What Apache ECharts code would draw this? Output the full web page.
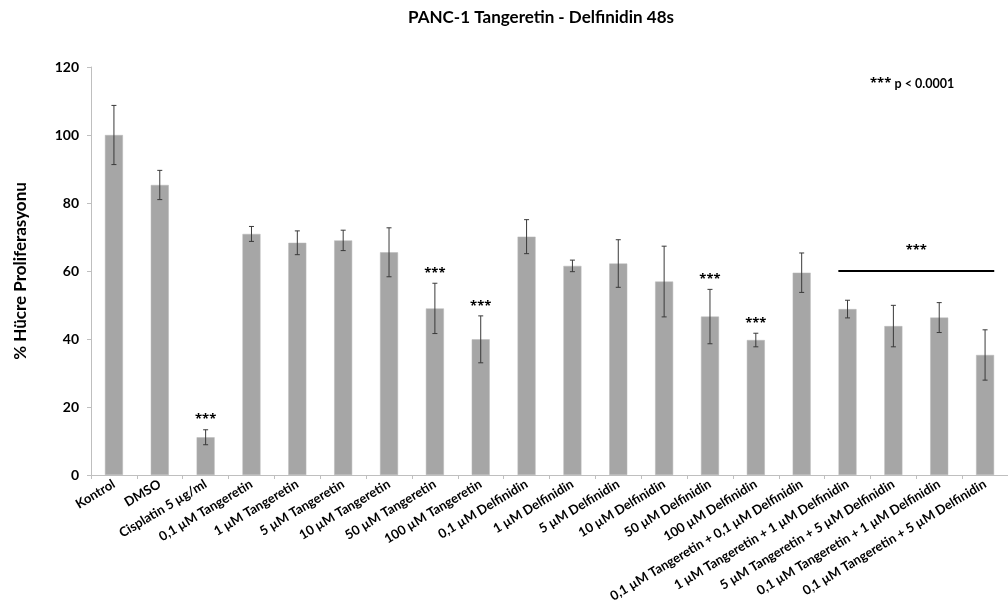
<!DOCTYPE html>
<html>
<head>
<meta charset="utf-8">
<script src="https://cdn.jsdelivr.net/npm/echarts@6/dist/echarts.min.js"></script>
<style>
  html, body { margin: 0; padding: 0; background: #fff; }
  #chart { width: 1008px; height: 610px; }
</style>
</head>
<body>
<div id="chart"></div>
<script>
// Treatment groups along the x axis
const categories = [
  'Kontrol', 'DMSO', 'Cisplatin 5 µg/ml',
  '0,1 µM Tangeretin', '1 µM Tangeretin', '5 µM Tangeretin', '10 µM Tangeretin',
  '50 µM Tangeretin', '100 µM Tangeretin',
  '0,1 µM Delfinidin', '1 µM Delfinidin', '5 µM Delfinidin', '10 µM Delfinidin',
  '50 µM Delfinidin', '100 µM Delfinidin',
  '0,1 µM Tangeretin + 0,1 µM Delfinidin', '1 µM Tangeretin + 1 µM Delfinidin',
  '5 µM Tangeretin + 5 µM Delfinidin', '0,1 µM Tangeretin + 1 µM Delfinidin',
  '0,1 µM Tangeretin + 5 µM Delfinidin'
];
// Mean proliferation (%) and standard deviation per group
const meanValues  = [100, 85.3, 11.1, 70.9, 68.3, 69.0, 65.5, 49.0, 39.9, 70.1, 61.5, 62.2, 56.9, 46.6, 39.7, 59.5, 48.8, 43.8, 46.3, 35.3];
const errorValues = [8.7, 4.3, 2.2, 2.2, 3.5, 3.0, 7.2, 7.4, 6.9, 5.0, 1.7, 7.0, 10.4, 8.0, 2.0, 5.8, 2.6, 6.1, 4.4, 7.4];
// Groups individually marked as significant
const significantIdx = [2, 7, 8, 13, 14];
// Combination groups marked together under one bracket
const bracketFrom = 16;
const bracketTo = 19;
const bracketLevel = 60;
const sigLabel = '***';
const pNote = 'p < 0.0001';
const yTicks = { min: 0, max: 120, interval: 20 };

const FONT = 'Lato, "Open Sans", sans-serif';
const STAR_FONT = 'bold 13px "Open Sans", sans-serif';
const chart = echarts.init(document.getElementById('chart'));

const errorData = meanValues.map((v, i) => [i, v - errorValues[i], v + errorValues[i]]);
const sigData = significantIdx.map(i => [i, meanValues[i] + errorValues[i]]);

chart.setOption({
  animation: false,
  title: {
    text: 'PANC-1 Tangeretin - Delfinidin 48s',
    left: 536, top: 4, textAlign: 'center',
    textStyle: { fontFamily: FONT, fontWeight: 'bold', fontSize: 17, color: '#000' }
  },
  grid: { left: 91, right: 0, top: 67, bottom: 135, containLabel: false },
  xAxis: {
    type: 'category',
    data: categories,
    boundaryGap: true,
    axisLine: { lineStyle: { color: '#bfbfbf', width: 1 } },
    axisTick: { show: true, length: 4, lineStyle: { color: '#bfbfbf' } },
    axisLabel: {
      interval: 0, rotate: 31, margin: 8,
      fontFamily: FONT, fontWeight: 'bold', fontSize: 13, color: '#000'
    }
  },
  yAxis: {
    type: 'value',
    min: yTicks.min, max: yTicks.max, interval: yTicks.interval,
    name: '% Hücre Proliferasyonu',
    nameLocation: 'middle', nameRotate: 90, nameGap: 62,
    nameTextStyle: { fontFamily: FONT, fontWeight: 'bold', fontSize: 17, color: '#000' },
    axisLine: { show: true, lineStyle: { color: '#bfbfbf', width: 1 } },
    axisTick: { show: true, length: 4, lineStyle: { color: '#bfbfbf' } },
    splitLine: { show: false },
    axisLabel: { margin: 12, fontFamily: FONT, fontWeight: 'bold', fontSize: 14, color: '#000' }
  },
  series: [
    {
      type: 'bar',
      data: meanValues,
      barWidth: 18,
      itemStyle: { color: '#a6a6a6', borderColor: '#b8b8b8', borderWidth: 0.5 },
      z: 2
    },
    {
      // error bars with short caps
      type: 'custom',
      data: errorData,
      z: 3,
      renderItem: function (params, api) {
        const x = api.value(0);
        const lo = api.coord([x, api.value(1)]);
        const hi = api.coord([x, api.value(2)]);
        const cap = 2.5;
        const style = { stroke: '#3a3a3a', lineWidth: 1 };
        return {
          type: 'group',
          children: [
            { type: 'line', shape: { x1: lo[0], y1: lo[1], x2: hi[0], y2: hi[1] }, style: style },
            { type: 'line', shape: { x1: hi[0] - cap, y1: hi[1], x2: hi[0] + cap, y2: hi[1] }, style: style },
            { type: 'line', shape: { x1: lo[0] - cap, y1: lo[1], x2: lo[0] + cap, y2: lo[1] }, style: style }
          ]
        };
      }
    },
    {
      // significance stars above single groups
      type: 'custom',
      data: sigData,
      z: 4,
      renderItem: function (params, api) {
        const p = api.coord([api.value(0), api.value(1)]);
        return {
          type: 'text',
          style: {
            x: p[0], y: p[1] - 10, text: sigLabel,
            textAlign: 'center', textVerticalAlign: 'middle',
            font: STAR_FONT, fill: '#000'
          }
        };
      }
    },
    {
      // bracket over the combination groups
      type: 'custom',
      data: [[bracketFrom, bracketTo, bracketLevel]],
      z: 4,
      renderItem: function (params, api) {
        const a = api.coord([api.value(0), api.value(2)]);
        const b = api.coord([api.value(1), api.value(2)]);
        const half = api.size([1, 0])[0] * 0.2;
        const x1 = a[0] - half, x2 = b[0] + half;
        return {
          type: 'group',
          children: [
            { type: 'line', shape: { x1: x1, y1: a[1], x2: x2, y2: a[1] }, style: { stroke: '#000', lineWidth: 2 } },
            { type: 'text', style: {
                x: (x1 + x2) / 2, y: a[1] - 21, text: sigLabel,
                textAlign: 'center', textVerticalAlign: 'middle',
                font: STAR_FONT, fill: '#000' } }
          ]
        };
      }
    }
  ],
  graphic: [
    {
      type: 'text', left: 870, top: 77,
      style: {
        text: '{s|' + sigLabel + '} {t|' + pNote + '}',
        rich: {
          s: { font: STAR_FONT, fill: '#000' },
          t: { font: 'bold 12.5px ' + FONT, fill: '#000' }
        }
      }
    }
  ]
});
</script>
</body>
</html>
